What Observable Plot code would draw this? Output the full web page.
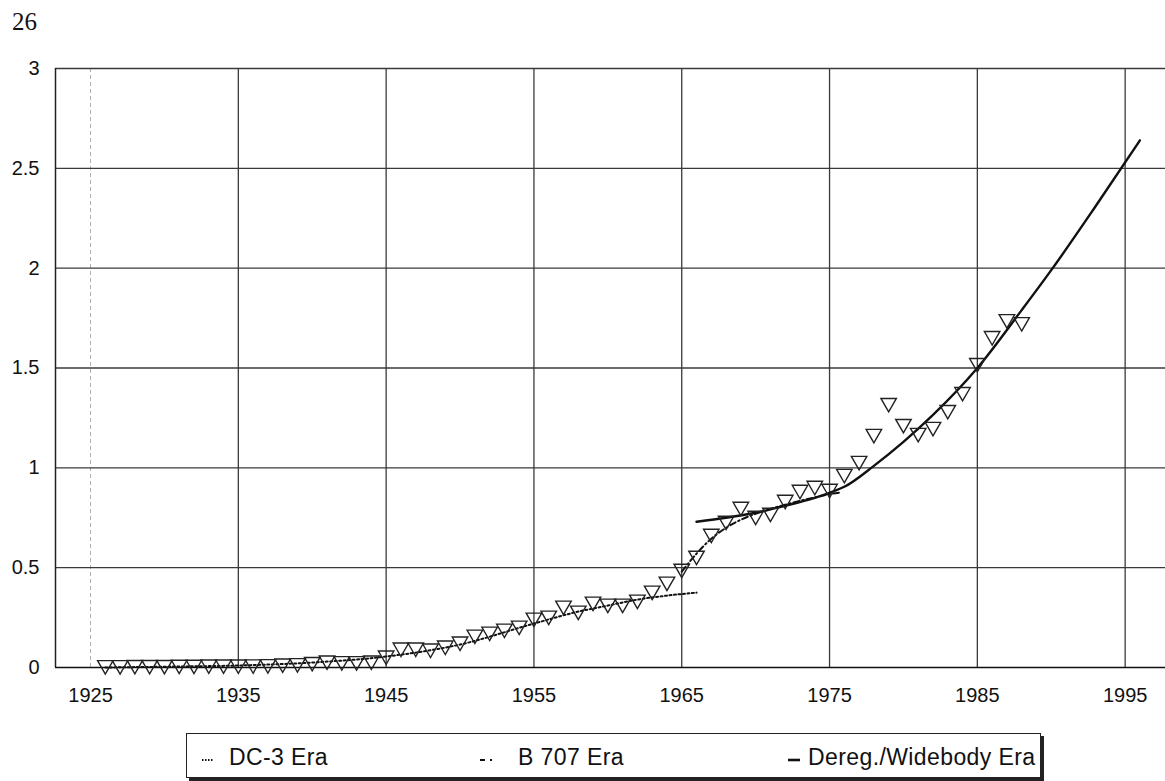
<!DOCTYPE html>
<html><head><meta charset="utf-8">
<script src="https://cdn.jsdelivr.net/npm/d3@7"></script>
<script src="https://cdn.jsdelivr.net/npm/@observablehq/plot@0.6"></script>
<style>
body{margin:0;background:#fff;font-family:"Liberation Sans",Arial,sans-serif;}
#wrap{position:relative;width:1165px;height:781px;overflow:hidden;background:#fff;}
#chart{position:absolute;left:0;top:0;}
#page{position:absolute;left:12px;top:8px;font-family:"Liberation Serif","Times New Roman",serif;font-size:25px;color:#111;}
#legend{position:absolute;left:186px;top:733px;width:853px;height:43px;border:1px solid #222;box-shadow:3px 3px 0 #222;background:#fff;}
#legend svg{position:absolute;left:0;top:0;}
</style></head><body>
<div id="wrap">
<div id="chart"></div>
<div id="page">26</div>
<div id="legend"></div>
</div>
<script>
// ---- data ----
const pointYears = [1926,1927,1928,1929,1930,1931,1932,1933,1934,1935,1936,1937,1938,1939,1940,1941,1942,1943,1944,1945,1946,1947,1948,1949,1950,1951,1952,1953,1954,1955,1956,1957,1958,1959,1960,1961,1962,1963,1964,1965,1966,1967,1968,1969,1970,1971,1972,1973,1974,1975,1976,1977,1978,1979,1980,1981,1982,1983,1984,1985,1986,1987,1988];
const pointValues = [0.002,0.002,0.003,0.003,0.003,0.004,0.004,0.005,0.005,0.005,0.006,0.007,0.01,0.012,0.018,0.025,0.022,0.022,0.025,0.05,0.09,0.09,0.085,0.1,0.12,0.155,0.17,0.185,0.2,0.24,0.25,0.3,0.275,0.32,0.31,0.31,0.33,0.375,0.42,0.485,0.55,0.66,0.725,0.795,0.75,0.765,0.83,0.88,0.9,0.885,0.96,1.025,1.16,1.315,1.21,1.165,1.195,1.28,1.37,1.515,1.65,1.735,1.72];

const dc3Years  = [1926,1930,1935,1940,1945,1950,1955,1958,1960,1962,1964,1966];
const dc3Values = [0.0,0.004,0.01,0.025,0.055,0.115,0.22,0.28,0.31,0.34,0.36,0.375];

const b707Years  = [1965,1966,1967,1968,1969,1970,1971,1972,1973,1974,1975,1975.7];
const b707Values = [0.48,0.57,0.645,0.7,0.74,0.77,0.795,0.815,0.835,0.852,0.868,0.876];

const deregYears  = [1966,1968,1970,1972,1974,1975,1976,1978,1980,1982,1985,1988,1990,1993,1996];
const deregValues = [0.73,0.75,0.775,0.81,0.85,0.875,0.905,1.01,1.13,1.265,1.5,1.79,1.99,2.31,2.64];

const xTicks = [1925,1935,1945,1955,1965,1975,1985,1995];
const xGrid  = [1935,1945,1955,1965,1975,1985,1995];
const yTicks = [0,0.5,1,1.5,2,2.5,3];
const yGrid  = [0.5,1,1.5,2,2.5,3];
const legendLabels = ["DC-3 Era","B 707 Era","Dereg./Widebody Era"];

// ---- build tables ----
const points = pointYears.map((y,i)=>({year:y, value:pointValues[i]}));
const dc3 = dc3Years.map((y,i)=>({year:y, value:dc3Values[i]}));
const b707 = b707Years.map((y,i)=>({year:y, value:b707Values[i]}));
const dereg = deregYears.map((y,i)=>({year:y, value:deregValues[i]}));

const xMin = 1922.63, xMax = 1997.73;
const fmt = d => String(d);

const chart = Plot.plot({
  width: 1165, height: 720,
  marginTop: 68, marginBottom: 53, marginLeft: 55, marginRight: 0,
  x: {domain: [xMin, xMax], label: null},
  y: {domain: [0, 3], label: null},
  style: {fontFamily: "'Liberation Sans', Arial, sans-serif", fontSize: "20px", color: "#111", background: "white"},
  marks: [
    Plot.ruleX([1925], {stroke: "#b0b0b0", strokeDasharray: "4,3", strokeWidth: 1}),
    Plot.ruleX(xGrid, {stroke: "#3a3a3a", strokeWidth: 1.3}),
    Plot.ruleY(yGrid, {stroke: "#3a3a3a", strokeWidth: 1.3}),
    Plot.ruleX([xMin], {stroke: "#222", strokeWidth: 1.5}),
    Plot.ruleY([0], {stroke: "#111", strokeWidth: 1.6}),
    Plot.line(dc3, {x: "year", y: "value", stroke: "#111", strokeWidth: 2, strokeDasharray: "2,2.5", curve: "monotone-x"}),
    Plot.line(b707, {x: "year", y: "value", stroke: "#111", strokeWidth: 2, strokeDasharray: "6,3,1.5,3", curve: "monotone-x"}),
    Plot.line(dereg, {x: "year", y: "value", stroke: "#111", strokeWidth: 2.4, curve: "monotone-x"}),
    Plot.dot(points, {x: "year", y: "value", symbol: "triangle2", r: 7.4, rotate: 180, stroke: "#222", strokeWidth: 1.4, fill: "none", dy: -2}),
    Plot.axisX({ticks: xTicks, tickSize: 0, tickPadding: 20, tickFormat: fmt, fontSize: 20, label: null}),
    Plot.axisY({ticks: yTicks, tickSize: 0, tickPadding: 16, tickFormat: fmt, fontSize: 20, label: null})
  ]
});
document.getElementById("chart").appendChild(chart);

// ---- legend ----
const ns = "http://www.w3.org/2000/svg";
const lg = document.createElementNS(ns, "svg");
lg.setAttribute("width", 853); lg.setAttribute("height", 43);
const items = [
  {sx: 15, ex: 26, dash: "1.5,1.5", w: 2, tx: 42},
  {sx: 293, ex: 311, dash: "5,5,2,20", w: 2, tx: 331},
  {sx: 601, ex: 613, dash: null, w: 2.6, tx: 621}
];
items.forEach((it, i) => {
  const l = document.createElementNS(ns, "line");
  l.setAttribute("x1", it.sx); l.setAttribute("x2", it.ex);
  l.setAttribute("y1", 26); l.setAttribute("y2", 26);
  l.setAttribute("stroke", "#111"); l.setAttribute("stroke-width", it.w);
  if (it.dash) l.setAttribute("stroke-dasharray", it.dash);
  lg.appendChild(l);
  const t = document.createElementNS(ns, "text");
  t.setAttribute("x", it.tx); t.setAttribute("y", 31);
  t.setAttribute("font-family", "'Liberation Sans', Arial, sans-serif");
  t.setAttribute("font-size", 23); t.setAttribute("letter-spacing", "0.4");
  t.setAttribute("fill", "#111");
  t.textContent = legendLabels[i];
  lg.appendChild(t);
});
document.getElementById("legend").appendChild(lg);
</script>
</body></html>
